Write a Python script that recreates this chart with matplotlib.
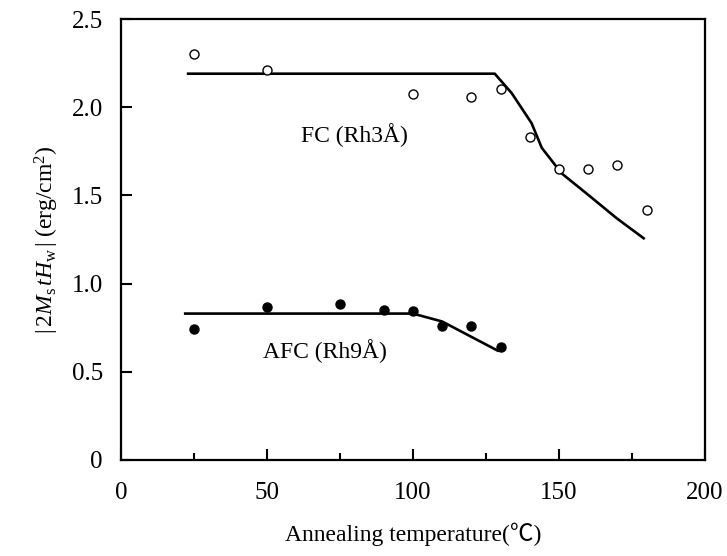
import matplotlib
matplotlib.use('Agg')
import matplotlib.pyplot as plt

plt.rcParams['font.family'] = ['Liberation Serif', 'DejaVu Serif']
plt.rcParams['mathtext.fontset'] = 'custom'
plt.rcParams['mathtext.rm'] = 'Liberation Serif'
plt.rcParams['mathtext.it'] = 'Liberation Serif:italic'
plt.rcParams['mathtext.bf'] = 'Liberation Serif:bold'

# FC (Rh3A) measured points and guide line
fc_temp = [25, 50, 100, 120, 130, 140, 150, 160, 170, 180]
fc_val = [2.30, 2.21, 2.075, 2.06, 2.105, 1.83, 1.65, 1.65, 1.67, 1.42]
fc_line_temp = [23, 128, 133.8, 140.6, 144.1, 150.9, 159.5, 169.8, 179]
fc_line_val = [2.19, 2.19, 2.08, 1.91, 1.77, 1.625, 1.51, 1.37, 1.257]

# AFC (Rh9A) measured points and guide line
afc_temp = [25, 50, 75, 90, 100, 110, 120, 130]
afc_val = [0.74, 0.87, 0.885, 0.85, 0.845, 0.76, 0.76, 0.642]
afc_line_temp = [22, 100, 110, 129]
afc_line_val = [0.83, 0.83, 0.785, 0.62]

fig = plt.figure(figsize=(7.27, 5.56), dpi=100)
ax = fig.add_axes([0.1664, 0.1727, 0.8033, 0.7931])

ax.plot(fc_line_temp, fc_line_val, color='black', lw=1.9)
ax.plot(afc_line_temp, afc_line_val, color='black', lw=1.9)
ax.plot(fc_temp, fc_val, 'o', mfc='white', mec='black', mew=1.0, ms=6.5)
ax.plot(afc_temp, afc_val, 'o', color='black', ms=6.5)

ax.text(80, 1.84, 'FC (Rh3Å)', fontsize=17, ha='center', va='center')
ax.text(70, 0.62, 'AFC (Rh9Å)', fontsize=17, ha='center', va='center')

ax.set_xlim(0, 200)
ax.set_ylim(0, 2.5)
ax.set_xticks([0, 50, 100, 150, 200])
ax.set_xticks([25, 75, 125, 175], minor=True)
ax.set_yticks([0, 0.5, 1.0, 1.5, 2.0, 2.5])
ax.set_yticklabels(['0', '0.5', '1.0', '1.5', '2.0', '2.5'])
ax.tick_params(which='major', direction='in', length=8, width=1.5,
               labelsize=18)
ax.tick_params(which='minor', direction='in', length=5, width=1.5)
ax.tick_params(axis='x', which='major', pad=16)
ax.tick_params(axis='y', which='major', pad=13)
for s in ax.spines.values():
    s.set_linewidth(1.6)

ax.set_xlabel('Annealing temperature(℃)', fontsize=17, labelpad=13,
              family=['Liberation Serif', 'Noto Sans CJK JP'])
ax.set_ylabel(r'$|\,2M_{\rm s}\,tH_{\rm w}\,|\;\rm(erg/cm^2)$', fontsize=17,
              labelpad=8)

plt.savefig('out.png', dpi=100)
